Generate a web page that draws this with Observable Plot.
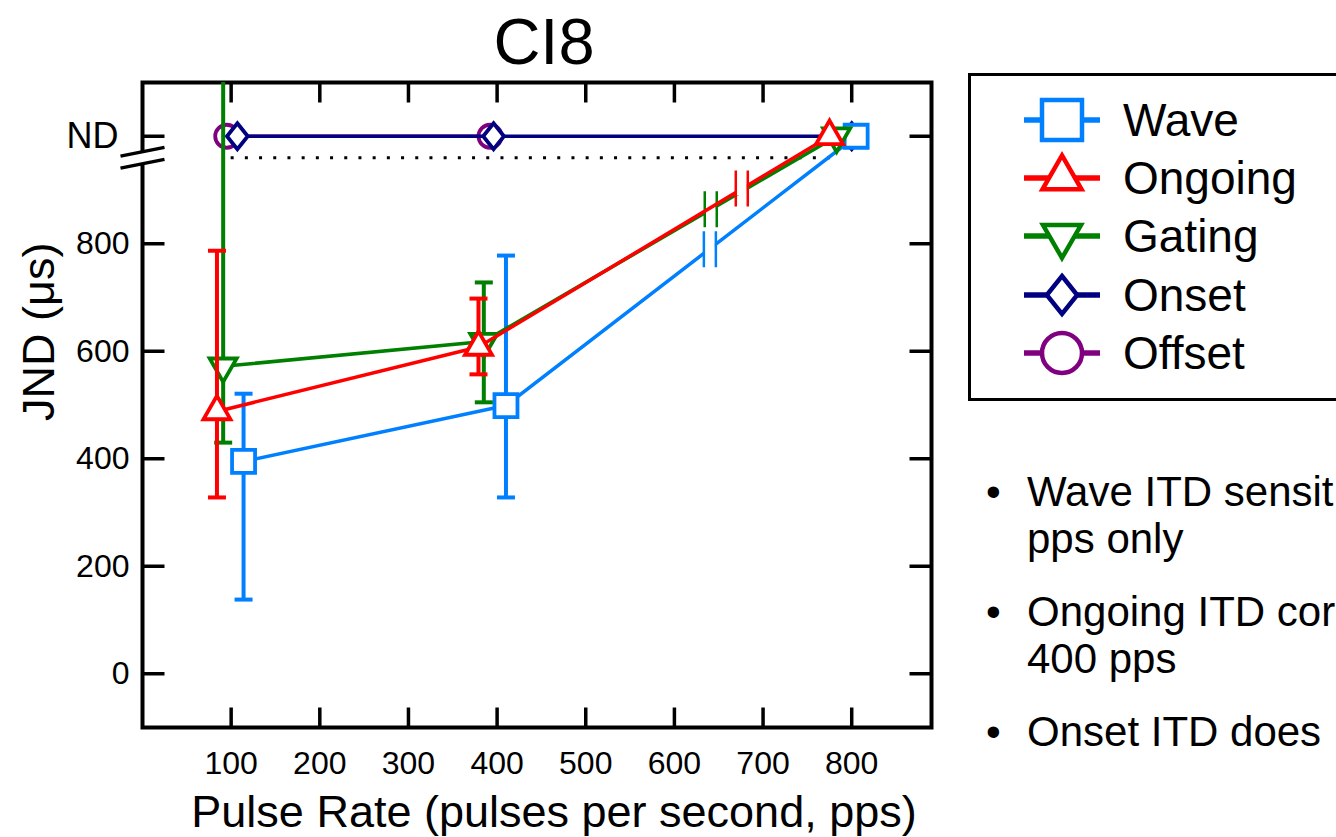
<!DOCTYPE html>
<html><head><meta charset="utf-8">
<script src="https://cdn.jsdelivr.net/npm/d3@7"></script>
<script src="https://cdn.jsdelivr.net/npm/@observablehq/plot@0.6"></script>
<style>
body{margin:0;background:#fff;font-family:"Liberation Sans",Arial,sans-serif;color:#000;}
#wrap{position:relative;width:1336px;height:837px;overflow:hidden;background:#fff;}
#chart{position:absolute;left:0;top:0;}
#title{position:absolute;left:0;top:9px;width:1088px;text-align:center;font-size:65px;line-height:65px;}
#legend{position:absolute;left:968px;top:73px;}
#notes{position:absolute;left:986px;top:468px;white-space:nowrap;font-size:42px;line-height:47px;}
#notes .p{position:relative;padding-left:41px;margin-bottom:26px;}
#notes .b{position:absolute;left:0;top:0;}
</style></head><body>
<div id="wrap">
  <div id="chart"></div>
  <div id="title">CI8</div>
  <div id="legend"></div>
  <div id="notes"></div>
</div>
<script>
// ---------------- data ----------------
const titleText = "CI8";
const xLabel = "Pulse Rate (pulses per second, pps)";
const yLabel = "JND (μs)";
const xTicks = [100, 200, 300, 400, 500, 600, 700, 800];
const yTicks = [0, 200, 400, 600, 800];
const ndValue = 1000;
const ndLabel = "ND";
const breakLevel = 960;
const dottedFrom = 100;
const dottedTo = 780;

const seriesNames = ["Wave", "Ongoing", "Gating", "Onset", "Offset"];
const seriesColors = ["#0080ff", "#ff0000", "#008000", "#000080", "#800080"];

const waveRate = [114, 410, 805];
const waveJND = [395, 499, 1000];
const waveLow = [138, 328, null];
const waveHigh = [521, 778, null];

const ongoingRate = [84, 379, 775];
const ongoingJND = [488, 608, 1000];
const ongoingLow = [328, 557, null];
const ongoingHigh = [787, 698, null];

const gatingRate = [91, 385, 783];
const gatingJND = [572, 618, 1000];
const gatingLow = [430, 505, null];
const gatingHigh = [1150, 728, null];

const onsetRate = [107, 396, 800];
const onsetJND = [1000, 1000, 1000];

const offsetRate = [95, 392];
const offsetJND = [1000, 1000];

const breakSeries = ["Wave", "Gating", "Ongoing"];
const breakRate = [640, 641, 676];
const breakJND = [790, 864, 903];

const notes = [["Wave ITD sensit", "pps only"], ["Ongoing ITD cor", "400 pps"], ["Onset ITD does"]];

// ---------------- symbols ----------------
const sym = (fn) => ({draw(c, size) { fn(c, Math.sqrt(size / Math.PI)); }});
const squareSym = sym((c, r) => { c.moveTo(-r, -r); c.lineTo(r, -r); c.lineTo(r, r); c.lineTo(-r, r); c.closePath(); });
const triUpSym = sym((c, r) => { const h = Math.sqrt(3) * r; c.moveTo(0, -2 * h / 3); c.lineTo(r, h / 3); c.lineTo(-r, h / 3); c.closePath(); });
const triDownSym = sym((c, r) => { const h = Math.sqrt(3) * r; c.moveTo(0, 2 * h / 3); c.lineTo(r, -h / 3); c.lineTo(-r, -h / 3); c.closePath(); });
const diamondSym = sym((c, r) => { const w = 0.8 * r; c.moveTo(0, -r); c.lineTo(w, 0); c.lineTo(0, r); c.lineTo(-w, 0); c.closePath(); });
const circleSym = sym((c, r) => { c.moveTo(r, 0); c.arc(0, 0, r, 0, 2 * Math.PI); c.closePath(); });
const tickUp = sym((c, r) => { c.moveTo(0, 0); c.lineTo(0, -r); });
const tickDown = sym((c, r) => { c.moveTo(0, 0); c.lineTo(0, r); });
const tickRight = sym((c, r) => { c.moveTo(0, 0); c.lineTo(r, 0); });
const tickLeft = sym((c, r) => { c.moveTo(0, 0); c.lineTo(-r, 0); });
const capSym = sym((c, r) => { c.moveTo(-r, 0); c.lineTo(r, 0); });
const dblBarSym = sym((c, r) => { c.moveTo(-6, -r); c.lineTo(-6, r); c.moveTo(6, -r); c.lineTo(6, r); });
const gapSym = sym((c, r) => { c.moveTo(-5, -r); c.lineTo(5, -r); c.lineTo(5, r); c.lineTo(-5, r); c.closePath(); });
const axisBreakSym = sym((c, r) => { const s = 0.2 * r; c.moveTo(-r, -6 + s); c.lineTo(r, -6 - s); c.moveTo(-r, 6 + s); c.lineTo(r, 6 - s); });
const axisGapSym = sym((c, r) => { c.moveTo(-5, -5); c.lineTo(5, -7); c.lineTo(5, 5); c.lineTo(-5, 7); c.closePath(); });

const symbols = {Wave: squareSym, Ongoing: triUpSym, Gating: triDownSym, Onset: diamondSym, Offset: circleSym};
const plotR = {Wave: 11.5, Ongoing: 13.5, Gating: 13.5, Onset: 13, Offset: 11.5};
const legendR = {Wave: 20, Ongoing: 19.5, Gating: 19, Onset: 19, Offset: 20};
const color = Object.fromEntries(seriesNames.map((s, i) => [s, seriesColors[i]]));

// ---------------- tables ----------------
function rows(name, xs, ys, lo, hi) {
  return xs.map((x, i) => ({series: name, rate: x, jnd: ys[i], lo: lo ? lo[i] : null, hi: hi ? hi[i] : null}));
}
const table = {
  Wave: rows("Wave", waveRate, waveJND, waveLow, waveHigh),
  Ongoing: rows("Ongoing", ongoingRate, ongoingJND, ongoingLow, ongoingHigh),
  Gating: rows("Gating", gatingRate, gatingJND, gatingLow, gatingHigh),
  Onset: rows("Onset", onsetRate, onsetJND),
  Offset: rows("Offset", offsetRate, offsetJND)
};
const breaks = breakSeries.map((s, i) => ({series: s, rate: breakRate[i], jnd: breakJND[i]}));
const drawOrder = ["Offset", "Onset", "Wave", "Gating", "Ongoing"];

const marks = [
  Plot.frame({stroke: "black", strokeWidth: 4}),
  Plot.dot(xTicks, {x: d => d, frameAnchor: "bottom", symbol: tickUp, r: 20, stroke: "black", strokeWidth: 3.5, fill: "none"}),
  Plot.dot(xTicks, {x: d => d, frameAnchor: "top", symbol: tickDown, r: 20, stroke: "black", strokeWidth: 3.5, fill: "none"}),
  Plot.dot([...yTicks, ndValue], {y: d => d, frameAnchor: "left", symbol: tickRight, r: 22, stroke: "black", strokeWidth: 3.5, fill: "none"}),
  Plot.dot([...yTicks, ndValue], {y: d => d, frameAnchor: "right", symbol: tickLeft, r: 22, stroke: "black", strokeWidth: 3.5, fill: "none"}),
  Plot.dot([breakLevel], {y: d => d, frameAnchor: "left", symbol: axisGapSym, r: 10, fill: "white", stroke: "none"}),
  Plot.dot([breakLevel], {y: d => d, frameAnchor: "left", symbol: axisBreakSym, r: 22, fill: "none", stroke: "black", strokeWidth: 3.5}),
  Plot.axisX(xTicks, {anchor: "bottom", tickSize: 0, tickPadding: 24, fontSize: 32, label: null, tickFormat: d => String(d)}),
  Plot.axisY(yTicks, {anchor: "left", tickSize: 0, tickPadding: 13, fontSize: 32, label: null, tickFormat: d => String(d)}),
  Plot.axisY([ndValue], {anchor: "left", tickSize: 0, tickPadding: 24, fontSize: 36, label: null, tickFormat: () => ndLabel}),
  Plot.text([xLabel], {text: d => d, frameAnchor: "bottom", dy: 85, dx: 17, fontSize: 45, lineAnchor: "middle"}),
  Plot.text([yLabel], {text: d => d, frameAnchor: "left", rotate: -90, dx: -103, dy: 16, fontSize: 45, lineAnchor: "middle"}),
  Plot.ruleY([breakLevel], {y: d => d, x1: dottedFrom, x2: dottedTo, stroke: "black", strokeWidth: 3, strokeDasharray: "3,11.2"})
];

for (const s of drawOrder) {
  const d = table[s];
  const c = color[s];
  const err = d.filter(r => r.lo != null);
  if (err.length) {
    marks.push(Plot.ruleX(err, {x: "rate", y1: "lo", y2: "hi", stroke: c, strokeWidth: 4, clip: true}));
    marks.push(Plot.dot(err, {x: "rate", y: "lo", symbol: capSym, r: 9, stroke: c, strokeWidth: 4, fill: "none", clip: true}));
    marks.push(Plot.dot(err, {x: "rate", y: "hi", symbol: capSym, r: 9, stroke: c, strokeWidth: 4, fill: "none", clip: true}));
  }
  marks.push(Plot.line(d, {x: "rate", y: "jnd", stroke: c, strokeWidth: 3.5}));
  const b = breaks.filter(r => r.series === s);
  if (b.length) {
    marks.push(Plot.dot(b, {x: "rate", y: "jnd", symbol: gapSym, r: 7, fill: "white", stroke: "none"}));
    marks.push(Plot.dot(b, {x: "rate", y: "jnd", symbol: dblBarSym, r: 18, fill: "none", stroke: c, strokeWidth: 2.5}));
  }
  marks.push(Plot.dot(d, {x: "rate", y: "jnd", symbol: symbols[s], r: plotR[s], stroke: c, strokeWidth: 3.8, fill: "white"}));
}

const chart = Plot.plot({
  width: 960,
  height: 837,
  marginLeft: 142,
  marginRight: 29,
  marginTop: 82,
  marginBottom: 110,
  x: {domain: [0, 890], axis: null},
  y: {domain: [-100, 1100], axis: null},
  style: {fontFamily: "'Liberation Sans', Arial, sans-serif", color: "black", background: "white", overflow: "visible"},
  marks
});
document.getElementById("chart").appendChild(chart);
document.getElementById("title").textContent = titleText;

// ---------------- legend ----------------
const legendRowY = [47, 105, 163, 222, 280];
const lsvg = d3.select("#legend").append("svg").attr("width", 368).attr("height", 330);
lsvg.append("rect").attr("x", 1.5).attr("y", 1.5).attr("width", 420).attr("height", 325)
  .attr("fill", "white").attr("stroke", "black").attr("stroke-width", 3);
seriesNames.forEach((s, i) => {
  const y = legendRowY[i];
  const g = lsvg.append("g").attr("transform", `translate(94,${y})`);
  g.append("line").attr("x1", -38).attr("x2", 38).attr("stroke", color[s]).attr("stroke-width", 5.5);
  const p = d3.path();
  symbols[s].draw(p, Math.PI * legendR[s] * legendR[s]);
  g.append("path").attr("d", p.toString()).attr("fill", "white").attr("stroke", color[s]).attr("stroke-width", 4.5);
  lsvg.append("text").attr("x", 155).attr("y", y + 16).attr("font-size", 46)
    .attr("font-family", "'Liberation Sans', Arial, sans-serif").text(s);
});

// ---------------- notes ----------------
const notesDiv = d3.select("#notes");
notes.forEach(lines => {
  const p = notesDiv.append("div").attr("class", "p");
  p.append("span").attr("class", "b").text("•");
  lines.forEach(t => p.append("div").text(t));
});
</script>
</body></html>
